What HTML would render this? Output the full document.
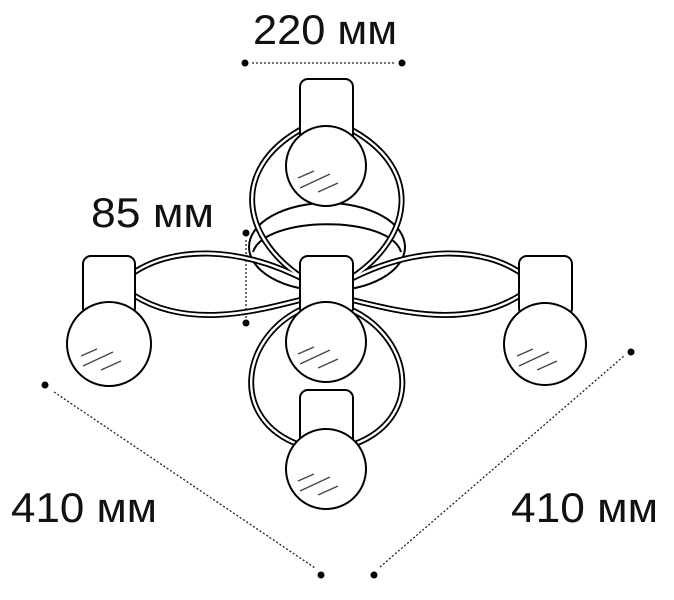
<!DOCTYPE html>
<html><head><meta charset="utf-8"><style>
html,body{margin:0;padding:0;background:#fff;}
svg{display:block}
text{font-family:"Liberation Sans",sans-serif;font-size:42px;fill:#111;}
</style></head><body>
<svg width="674" height="600" viewBox="0 0 674 600" xmlns="http://www.w3.org/2000/svg">
<defs>
<g id="glare" stroke="#444" stroke-width="1.3" fill="none">
<line x1="-20" y1="8" x2="-4" y2="1"/><line x1="-18" y1="18" x2="12" y2="4"/><line x1="0" y1="22" x2="20" y2="13"/>
</g>
</defs>
<!-- dimension text -->
<text x="253" y="44" textLength="144" lengthAdjust="spacingAndGlyphs">220 мм</text>
<text x="91" y="227" textLength="123" lengthAdjust="spacingAndGlyphs">85 мм</text>
<text x="11" y="522" textLength="146" lengthAdjust="spacingAndGlyphs">410 мм</text>
<text x="511" y="522" textLength="147" lengthAdjust="spacingAndGlyphs">410 мм</text>
<!-- dimension lines -->
<g stroke="#222" stroke-width="1.3" stroke-dasharray="2 2" fill="none">
<line x1="252" y1="63" x2="395" y2="63"/>
<line x1="246" y1="240" x2="246" y2="318"/>
<line x1="54" y1="392" x2="315" y2="568"/>
<line x1="380" y1="567" x2="624" y2="356"/>
</g>
<g fill="#000">
<circle cx="245" cy="63" r="3.5"/><circle cx="402" cy="63" r="3.5"/>
<circle cx="246" cy="233" r="3.5"/><circle cx="246" cy="323" r="3.5"/>
<circle cx="45" cy="385" r="3.5"/><circle cx="321" cy="575" r="3.5"/>
<circle cx="374" cy="575" r="3.5"/><circle cx="631" cy="352" r="3.5"/>
</g>
<!-- canopy -->
<g fill="#fff" stroke="#000" stroke-width="2">
<ellipse cx="327" cy="247" rx="78" ry="44"/>
<path d="M253,252 C265,215 390,215 401,252" fill="none"/>
</g>
<!-- arms: double lines -->
<g fill="none" stroke-linecap="round">
<g stroke="#000" stroke-width="6">
<path d="M300,130 C230,170 240,240 309,282"/>
<path d="M352,130 C424,170 414,240 345,282"/>
<path d="M300,310 C240,340 230,420 300,445"/>
<path d="M352,310 C414,340 424,420 352,445"/>
<path d="M129,276 C170,245 240,245 309,282"/>
<path d="M135,296 C190,330 260,310 300,300"/>
<path d="M525,276 C484,245 414,245 345,282"/>
<path d="M519,296 C464,330 394,310 352,300"/>
</g>
<g stroke="#fff" stroke-width="2.4">
<path d="M300,130 C230,170 240,240 309,282"/>
<path d="M352,130 C424,170 414,240 345,282"/>
<path d="M300,310 C240,340 230,420 300,445"/>
<path d="M352,310 C414,340 424,420 352,445"/>
<path d="M129,276 C170,245 240,245 309,282"/>
<path d="M135,296 C190,330 260,310 300,300"/>
<path d="M525,276 C484,245 414,245 345,282"/>
<path d="M519,296 C464,330 394,310 352,300"/>
</g>
</g>
<!-- lamps -->
<g fill="#fff" stroke="#000" stroke-width="2">
<rect x="300" y="79" width="53" height="66" rx="8"/>
<circle cx="326" cy="166" r="40"/>
<rect x="300" y="256" width="53" height="60" rx="8"/>
<circle cx="326" cy="342" r="40"/>
<rect x="83" y="256" width="52" height="60" rx="8"/>
<circle cx="109" cy="344" r="42"/>
<rect x="519" y="256" width="53" height="60" rx="8"/>
<circle cx="545" cy="344" r="41"/>
<rect x="300" y="390" width="53" height="60" rx="8"/>
<circle cx="326" cy="469" r="40"/>
</g>
<use href="#glare" x="318" y="170"/>
<use href="#glare" x="318" y="346"/>
<use href="#glare" x="101" y="348"/>
<use href="#glare" x="537" y="348"/>
<use href="#glare" x="318" y="473"/>
</svg>
</body></html>
